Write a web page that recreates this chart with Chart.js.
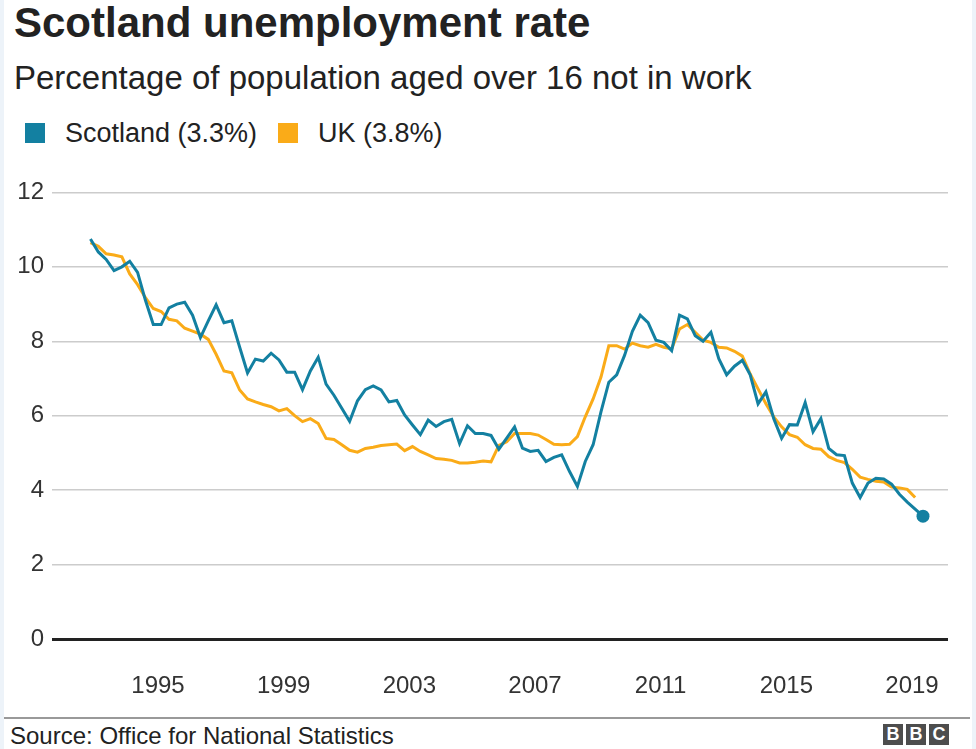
<!DOCTYPE html>
<html>
<head>
<meta charset="utf-8">
<title>Scotland unemployment rate</title>
<script src="https://cdn.jsdelivr.net/npm/chart.js@4.4.1/dist/chart.umd.min.js"></script>
<style>
  body { margin: 0; width: 976px; height: 749px; background: #edf3f9; overflow: hidden;
         font-family: "Liberation Sans", Arial, Helvetica, sans-serif; }
  .panel { position: absolute; left: 4px; top: 0; width: 968px; height: 749px; background: #fff; }
  .abs { position: absolute; white-space: nowrap; line-height: 1; }
  #title { left: 14px; top: 2px; font-size: 42px; font-weight: bold; color: #222; }
  #subtitle { left: 14px; top: 61px; font-size: 33px; color: #222; }
  .legend { top: 120px; font-size: 27px; color: #222; }
  .swatch { position: absolute; top: 123px; width: 20px; height: 20px; }
  #chart { position: absolute; left: 0; top: 170px; }
  #rule { position: absolute; left: 4px; top: 717px; width: 966px; height: 0; border-top: 2px solid #999; }
  #source { left: 10px; top: 724px; font-size: 24px; color: #222; }
  .bbc { position: absolute; top: 724px; width: 20px; height: 21px; background: #4d4d4d; color: #fff;
         font: bold 18px "Liberation Sans", Arial, sans-serif; text-align: center; line-height: 21px; }
</style>
</head>
<body>
<div class="panel"></div>
<div id="title" class="abs">Scotland unemployment rate</div>
<div id="subtitle" class="abs">Percentage of population aged over 16 not in work</div>
<div class="swatch" style="left:25px;background:#1380a1"></div>
<div class="abs legend" style="left:65px">Scotland (3.3%)</div>
<div class="swatch" style="left:278px;background:#faab18"></div>
<div class="abs legend" style="left:318px">UK (3.8%)</div>
<canvas id="chart" width="976" height="540"></canvas>
<div id="rule"></div>
<div id="source" class="abs">Source: Office for National Statistics</div>
<div class="bbc" style="left:883px">B</div>
<div class="bbc" style="left:906px">B</div>
<div class="bbc" style="left:929px">C</div>

<script>
// quarterly readings, first point late 1992
const startYear = 1992.85;
const stepYears = 0.25;

const scotland = [
  10.75, 10.4, 10.2, 9.9, 10.0, 10.15, 9.85, 9.1, 8.45, 8.45,
  8.9, 9.0, 9.05, 8.7, 8.1, 8.55, 8.98, 8.5, 8.55, 7.84,
  7.15, 7.52, 7.47, 7.68, 7.5, 7.17, 7.17, 6.7, 7.2, 7.57,
  6.85, 6.55, 6.2, 5.85, 6.4, 6.7, 6.8, 6.69, 6.37, 6.41,
  6.02, 5.75, 5.49, 5.88, 5.71, 5.84, 5.9, 5.25, 5.73, 5.52,
  5.52, 5.47, 5.1, 5.4, 5.7, 5.13, 5.04, 5.07, 4.77, 4.88,
  4.95, 4.5, 4.1, 4.77, 5.22, 6.1, 6.9, 7.1, 7.62, 8.27,
  8.7, 8.5, 8.03, 7.97, 7.75, 8.7, 8.6, 8.15, 8.0, 8.24,
  7.53, 7.1, 7.33, 7.49, 7.1, 6.32, 6.64, 5.92, 5.39, 5.76,
  5.75, 6.35, 5.57, 5.92, 5.12, 4.95, 4.93, 4.19, 3.8, 4.19,
  4.32, 4.3, 4.16, 3.89, 3.68, 3.49, 3.3
];

const uk = [
  10.65, 10.55, 10.35, 10.32, 10.27, 9.81, 9.52, 9.17, 8.88, 8.8,
  8.59, 8.55, 8.35, 8.27, 8.19, 8.05, 7.65, 7.2, 7.15, 6.69,
  6.45, 6.37, 6.3, 6.24, 6.13, 6.19, 6.0, 5.84, 5.92, 5.79,
  5.39, 5.36, 5.22, 5.07, 5.02, 5.12, 5.15, 5.2, 5.22, 5.24,
  5.06, 5.17, 5.04, 4.95, 4.85, 4.83, 4.8, 4.73, 4.73, 4.75,
  4.78, 4.76, 5.2, 5.3, 5.52, 5.52, 5.52, 5.48, 5.36, 5.23,
  5.22, 5.23, 5.44, 5.97, 6.45, 7.04, 7.88, 7.88, 7.79, 7.95,
  7.88, 7.84, 7.92, 7.84, 7.8, 8.33, 8.45, 8.24, 8.03, 7.97,
  7.84, 7.82, 7.73, 7.6, 7.12, 6.72, 6.32, 5.97, 5.7, 5.49,
  5.42, 5.22, 5.12, 5.1, 4.9, 4.8, 4.74, 4.56, 4.35, 4.29,
  4.24, 4.22, 4.08, 4.06, 4.02, 3.8
];

const yearTicks = [1995, 1999, 2003, 2007, 2011, 2015, 2019];
const yTicks = [0, 2, 4, 6, 8, 10, 12];

function toPoints(values) {
  return values.map((v, i) => ({ x: startYear + i * stepYears, y: v }));
}

const tickFont = { family: '"Liberation Sans", Arial, sans-serif', size: 24 };

const ctx = document.getElementById('chart').getContext('2d');
const chart = new Chart(ctx, {
  type: 'line',
  data: {
    datasets: [
      {
        label: 'Scotland',
        data: toPoints(scotland),
        borderColor: '#1380a1',
        backgroundColor: '#1380a1',
        borderWidth: 3,
        pointRadius: c => (c.dataIndex === scotland.length - 1 ? 6.5 : 0),
        pointBorderWidth: 0,
        tension: 0
      },
      {
        label: 'UK',
        data: toPoints(uk),
        borderColor: '#faab18',
        borderWidth: 3,
        pointRadius: 0,
        tension: 0
      }
    ]
  },
  options: {
    responsive: false,
    animation: false,
    layout: { padding: { top: 19, right: 28, left: 0, bottom: 0 } },
    plugins: { legend: { display: false }, tooltip: { enabled: false } },
    scales: {
      x: {
        type: 'linear',
        min: 1991.626,
        max: 2020.146,
        afterBuildTicks: axis => { axis.ticks = yearTicks.map(v => ({ value: v })); },
        afterFit: axis => { axis.height = 71; },
        ticks: { font: tickFont, color: '#333', padding: 25, maxRotation: 0, autoSkip: false,
                 callback: v => String(v) },
        grid: { display: false },
        border: { display: false }
      },
      y: {
        min: 0,
        max: 12,
        afterBuildTicks: axis => { axis.ticks = yTicks.map(v => ({ value: v })); },
        afterFit: axis => { axis.width = 52; },
        ticks: { font: tickFont, color: '#333', padding: 8 },
        grid: {
          drawTicks: false,
          color: c => (c.tick && c.tick.value === 0 ? '#222' : '#cccccc'),
          lineWidth: c => (c.tick && c.tick.value === 0 ? 3 : 1.5)
        },
        border: { display: false }
      }
    }
  }
});
</script>
</body>
</html>
